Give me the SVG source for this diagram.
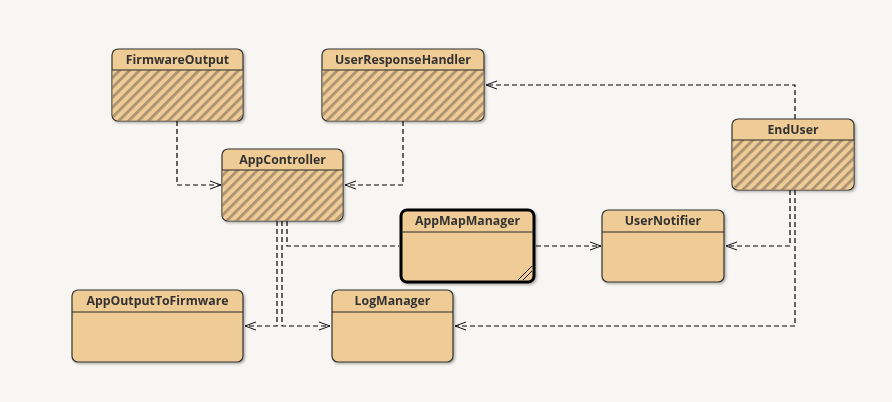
<svg xmlns="http://www.w3.org/2000/svg" width="892" height="402" viewBox="0 0 892 402">
  <style>
    .box { fill: #efcb95; stroke: #333; stroke-width: 1.2; }
    .hatch { fill: url(#stripes); }
    .sep { stroke: #2a2a2a; stroke-width: 1.2; }
    .title { font-family: "Open Sans", "Noto Sans", "Liberation Sans", sans-serif; font-weight: bold; font-size: 12.3px; fill: #333; text-anchor: middle; }
    .dep { fill: none; stroke: #000; stroke-width: 1.2; stroke-dasharray: 5 3; }
    .thick { fill: #efcb95; stroke: #000; stroke-width: 3; }
  </style>
  <defs>
    <pattern id="stripes" width="7" height="7" patternUnits="userSpaceOnUse" patternTransform="rotate(45)">
      <rect width="7" height="7" fill="#efcb95"/>
      <rect x="0" y="0" width="2.8" height="7" fill="#ab9372"/>
    </pattern>
    <filter id="shadow" x="-10%" y="-10%" width="125%" height="130%">
      <feDropShadow dx="1.5" dy="1.5" stdDeviation="1.2" flood-color="#000" flood-opacity="0.3"/>
    </filter>
    <marker id="open" markerWidth="12" markerHeight="10" refX="11" refY="5" orient="auto" markerUnits="userSpaceOnUse">
      <path d="M0,1 L11,5 L0,9" fill="none" stroke="#111" stroke-width="1"/>
    </marker>
  </defs>

  <rect width="892" height="402" fill="#f7f6f2"/>

  <!-- dependency connectors -->
  <g id="connectors">
    <path class="dep" d="M177,121 V185 H221" marker-end="url(#open)"/>
    <path class="dep" d="M403,121 V185 H345" marker-end="url(#open)"/>
    <path class="dep" d="M795,119 V85 H486" marker-end="url(#open)"/>
    <path class="dep" d="M287,221 V246 H399"/>
    <path class="dep" d="M536,246 H601" marker-end="url(#open)"/>
    <path class="dep" d="M790,190 V246 H726" marker-end="url(#open)"/>
    <path class="dep" d="M795,190 V326 H455" marker-end="url(#open)"/>
    <path class="dep" d="M277,221 V326 H245" marker-end="url(#open)"/>
    <path class="dep" d="M282,221 V326 H330" marker-end="url(#open)"/>
  </g>

  <g id="FirmwareOutput" filter="url(#shadow)">
    <rect class="box" x="112" y="49" width="131" height="72" rx="6"/>
    <path class="hatch" d="M112.6,70 H242.4 V115 a5.4,5.4 0 0 1 -5.4,5.4 H118 a5.4,5.4 0 0 1 -5.4,-5.4 Z"/>
    <line class="sep" x1="112" y1="70" x2="243" y2="70"/>
    <text class="title" x="177.5" y="64">FirmwareOutput</text>
  </g>

  <g id="UserResponseHandler" filter="url(#shadow)">
    <rect class="box" x="322" y="49" width="162" height="72" rx="6"/>
    <path class="hatch" d="M322.6,70 H483.4 V115 a5.4,5.4 0 0 1 -5.4,5.4 H328 a5.4,5.4 0 0 1 -5.4,-5.4 Z"/>
    <line class="sep" x1="322" y1="70" x2="484" y2="70"/>
    <text class="title" x="403" y="64">UserResponseHandler</text>
  </g>

  <g id="AppController" filter="url(#shadow)">
    <rect class="box" x="222" y="149" width="121" height="72" rx="6"/>
    <path class="hatch" d="M222.6,170 H342.4 V215 a5.4,5.4 0 0 1 -5.4,5.4 H228 a5.4,5.4 0 0 1 -5.4,-5.4 Z"/>
    <line class="sep" x1="222" y1="170" x2="343" y2="170"/>
    <text class="title" x="282.5" y="164">AppController</text>
  </g>

  <g id="AppMapManager" filter="url(#shadow)">
    <rect class="thick" x="401" y="210" width="133" height="72" rx="6"/>
    <line class="sep" x1="401" y1="232" x2="534" y2="232"/>
    <path d="M518,280 L532,266 M523,280 L532,271" stroke="#111" stroke-width="1"/>
    <text class="title" x="467.5" y="225">AppMapManager</text>
  </g>

  <g id="UserNotifier" filter="url(#shadow)">
    <rect class="box" x="602" y="210" width="122" height="72" rx="6"/>
    <line class="sep" x1="602" y1="232" x2="724" y2="232"/>
    <text class="title" x="663" y="225">UserNotifier</text>
  </g>

  <g id="EndUser" filter="url(#shadow)">
    <rect class="box" x="732" y="119" width="122" height="71" rx="6"/>
    <path class="hatch" d="M732.6,140 H853.4 V184 a5.4,5.4 0 0 1 -5.4,5.4 H738 a5.4,5.4 0 0 1 -5.4,-5.4 Z"/>
    <line class="sep" x1="732" y1="140" x2="854" y2="140"/>
    <text class="title" x="793" y="134">EndUser</text>
  </g>

  <g id="AppOutputToFirmware" filter="url(#shadow)">
    <rect class="box" x="72" y="290" width="171" height="72" rx="6"/>
    <line class="sep" x1="72" y1="312" x2="243" y2="312"/>
    <text class="title" x="157.5" y="305">AppOutputToFirmware</text>
  </g>

  <g id="LogManager" filter="url(#shadow)">
    <rect class="box" x="332" y="290" width="121" height="72" rx="6"/>
    <line class="sep" x1="332" y1="312" x2="453" y2="312"/>
    <text class="title" x="392.5" y="305">LogManager</text>
  </g>
</svg>
